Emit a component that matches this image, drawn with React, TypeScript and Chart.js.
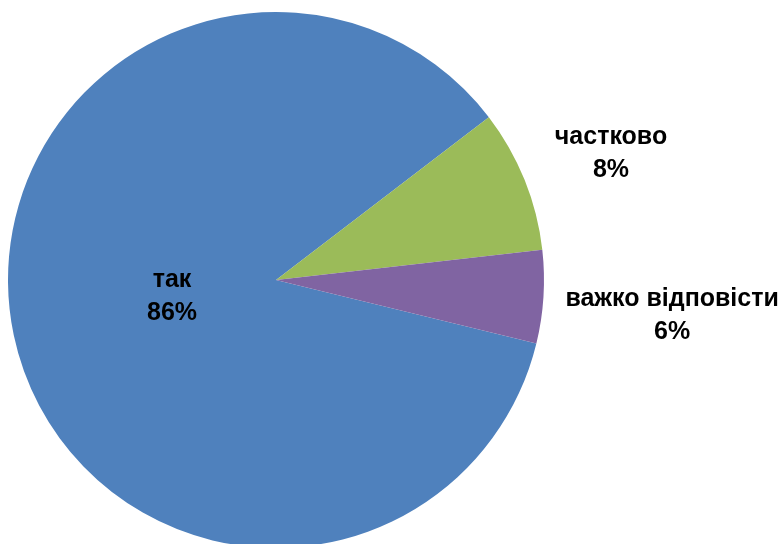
import React, { useEffect, useRef } from "react";
import { Chart, registerables } from "chart.js";

Chart.register(...registerables);

const categories = ["так", "частково", "важко відповісти"];
const values = [85.8, 8.6, 5.6];
const percentLabels = ["86%", "8%", "6%"];
const colors = ["#4F81BD", "#9BBB59", "#8064A2"];

// label anchor offsets as fractions of the radius (layout only)
const LABEL_OFFSETS = [
  [-0.388, 0.06],
  [1.25, -0.474],
  [1.478, 0.131],
];

const labelPlugin = {
  id: "sliceLabels",
  afterDatasetsDraw(chart: any) {
    const { ctx } = chart;
    const meta = chart.getDatasetMeta(0);
    ctx.save();
    ctx.font = "bold 25px 'Liberation Sans', Arial, sans-serif";
    ctx.fillStyle = "#000000";
    ctx.textAlign = "center";
    ctx.textBaseline = "middle";
    meta.data.forEach((arc: any, i: number) => {
      const { x, y, outerRadius } = arc.getProps(["x", "y", "outerRadius"], true);
      const cx = x + LABEL_OFFSETS[i][0] * outerRadius;
      const cy = y + LABEL_OFFSETS[i][1] * outerRadius;
      ctx.fillText(categories[i], cx, cy - 16);
      ctx.fillText(percentLabels[i], cx, cy + 17);
    });
    ctx.restore();
  },
};

export default function App() {
  const ref = useRef<HTMLCanvasElement>(null);
  useEffect(() => {
    if (!ref.current) return;
    const chart = new Chart(ref.current, {
      type: "pie",
      data: {
        labels: categories,
        datasets: [
          {
            data: values,
            backgroundColor: colors,
            borderWidth: 0,
          },
        ],
      },
      options: {
        animation: false,
        responsive: false,
        rotation: 103.7,
        layout: { padding: { left: 8, right: 240, top: 12, bottom: 12 } },
        plugins: {
          legend: { display: false },
          tooltip: { enabled: false },
        },
      },
      plugins: [labelPlugin],
    });
    return () => chart.destroy();
  }, []);
  return (
    <div
      style={{
        position: "absolute",
        left: 0,
        top: 0,
        width: 784,
        height: 544,
        overflow: "hidden",
        background: "#ffffff",
      }}
    >
      <canvas ref={ref} width={784} height={560} style={{ display: "block" }} />
    </div>
  );
}
